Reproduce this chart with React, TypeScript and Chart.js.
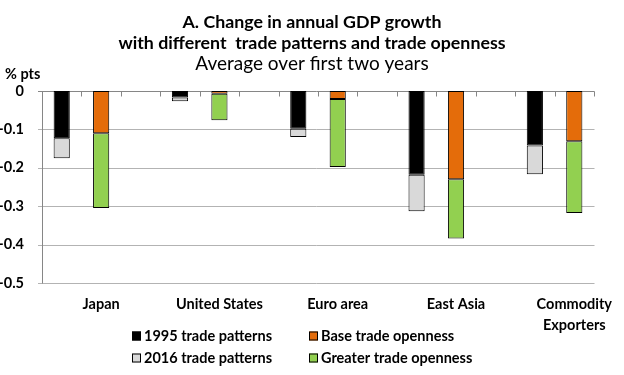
import React, { useEffect, useRef } from 'react';
import { Chart, registerables } from 'chart.js';

Chart.register(...registerables);

// ---- Data ----
const regions: (string | string[])[] = ['Japan', 'United States', 'Euro area', 'East Asia', ['Commodity', 'Exporters']];
const tradePatterns1995 = [-0.123, -0.017, -0.098, -0.218, -0.142];
const tradePatterns2016 = [-0.052, -0.01, -0.022, -0.095, -0.075];
const baseOpenness = [-0.11, -0.007, -0.021, -0.23, -0.131];
const greaterOpenness = [-0.195, -0.069, -0.177, -0.154, -0.187];
const seriesNames = ['1995 trade patterns', '2016 trade patterns', 'Base trade openness', 'Greater trade openness'];
const seriesColors = ['#000000', '#D9D9D9', '#E46C0A', '#92D050'];
const yMin = -0.5;
const yMax = 0;
const yStep = 0.1;
const titleLines = ['A. Change in annual GDP growth', 'with different  trade patterns and trade openness'];
const subtitle = 'Average over first two years';
const yUnit = '% pts';

const FONT = 'Lato, "Open Sans", sans-serif';

// each region: [patterns bar, openness bar, gap]; no gap after the last region
const slotCount = regions.length * 3 - 1;
const spread = (vals: number[], offset: number) =>
  Array.from({ length: slotCount }, (_, s) => (s % 3 === offset ? vals[Math.floor(s / 3)] : null));
const slotLabels = Array.from({ length: slotCount }, (_, s) => (s % 3 === 1 ? regions[Math.floor(s / 3)] : ''));

const W = 624;
const H = 375;

export default function App() {
  const ref = useRef<HTMLCanvasElement | null>(null);

  useEffect(() => {
    document.body.style.margin = '0';
    const canvas = ref.current;
    if (!canvas) return;

    const axisPlugin = {
      id: 'axesGrid',
      beforeDatasetsDraw(chart: any) {
        const { ctx, chartArea, scales } = chart;
        const x = scales.x;
        const y = scales.y;
        const left = Math.round(chartArea.left) + 0.5;
        const right = Math.round(chartArea.right) + 0.5;
        ctx.save();
        ctx.lineWidth = 1;
        // horizontal gridlines with left tick marks
        ctx.strokeStyle = '#B3B3B3';
        ctx.beginPath();
        y.ticks.forEach((t: any) => {
          if (t.value === 0) return;
          const py = Math.round(y.getPixelForValue(t.value)) + 0.5;
          ctx.moveTo(left - 4.5, py);
          ctx.lineTo(right, py);
        });
        ctx.stroke();
        // axes
        ctx.strokeStyle = '#868686';
        ctx.beginPath();
        const yTop = Math.round(y.getPixelForValue(yMax)) + 0.5;
        const yBot = Math.round(y.getPixelForValue(yMin)) + 0.5;
        ctx.moveTo(left, yTop);
        ctx.lineTo(left, yBot);
        const y0 = Math.round(y.getPixelForValue(0)) + 0.5;
        ctx.moveTo(left - 4.5, y0);
        ctx.lineTo(right, y0);
        for (let s = 0; s <= slotCount; s++) {
          const px = Math.round(x.getPixelForValue(s - 0.5)) + 0.5;
          ctx.moveTo(px, y0);
          ctx.lineTo(px, y0 + 5);
        }
        ctx.stroke();
        ctx.restore();
      },
    };

    const textPlugin = {
      id: 'texts',
      afterDraw(chart: any) {
        const { ctx, data } = chart;
        ctx.save();
        ctx.fillStyle = '#000';
        ctx.textAlign = 'center';
        ctx.textBaseline = 'alphabetic';
        ctx.font = `bold 17.8px ${FONT}`;
        ctx.fillText(titleLines[0], W / 2, 27.5);
        ctx.fillText(titleLines[1], W / 2, 48.5);
        ctx.font = `19px ${FONT}`;
        ctx.fillText(subtitle, W / 2, 70);
        ctx.textAlign = 'left';
        ctx.font = `bold 14.5px ${FONT}`;
        ctx.fillText(yUnit, 5, 79);

        // legend: two columns
        const cols = [
          [0, 1],
          [2, 3],
        ];
        const colX = [132, 309];
        const rowY = [336, 358];
        ctx.textBaseline = 'middle';
        ctx.font = `bold 14.5px ${FONT}`;
        cols.forEach((col, ci) => {
          col.forEach((di, ri) => {
            const ds = data.datasets[di];
            const sx = colX[ci];
            const sy = rowY[ri] - 4.5;
            ctx.fillStyle = ds.backgroundColor;
            ctx.fillRect(sx, sy, 9, 9);
            ctx.strokeStyle = '#000';
            ctx.lineWidth = 1;
            ctx.strokeRect(sx + 0.5, sy + 0.5, 8, 8);
            ctx.fillStyle = '#000';
            ctx.fillText(ds.label, sx + 12, rowY[ri] + 0.5);
          });
        });
        ctx.restore();
      },
    };

    const mk = (i: number, vals: number[], offset: number) => ({
      label: seriesNames[i],
      data: spread(vals, offset),
      backgroundColor: seriesColors[i],
      borderColor: '#000',
      borderWidth: 1,
      borderSkipped: false as const,
      barPercentage: 0.41,
      categoryPercentage: 1,
    });

    const chart = new Chart(canvas, {
      type: 'bar',
      data: {
        labels: slotLabels as any,
        datasets: [
          mk(0, tradePatterns1995, 0),
          mk(1, tradePatterns2016, 0),
          mk(2, baseOpenness, 1),
          mk(3, greaterOpenness, 1),
        ],
      },
      options: {
        responsive: false,
        animation: false,
        skipNull: true,
        layout: { padding: { top: 91, right: 29, left: 0, bottom: 0 } },
        plugins: {
          legend: { display: false },
          title: { display: false },
          tooltip: { enabled: false },
        },
        scales: {
          x: {
            stacked: true,
            grid: { display: false, drawTicks: false, tickLength: 0 },
            border: { display: false },
            ticks: {
              autoSkip: false,
              maxRotation: 0,
              minRotation: 0,
              padding: 11,
              color: '#000',
              font: { family: FONT, weight: 'bold', size: 14.5, lineHeight: '21px' },
            },
            afterFit: (s: any) => {
              s.height = H - 283;
            },
          },
          y: {
            stacked: true,
            min: yMin,
            max: yMax,
            ticks: {
              stepSize: yStep,
              padding: 18,
              color: '#000',
              font: { family: FONT, weight: 'bold', size: 14.5 },
            },
            grid: { display: false, drawTicks: false, tickLength: 0 },
            border: { display: false },
            afterFit: (s: any) => {
              s.width = 42;
            },
          },
        },
      } as any,
      plugins: [axisPlugin, textPlugin],
    });
    return () => chart.destroy();
  }, []);

  return <canvas ref={ref} width={W} height={H} style={{ display: 'block' }} />;
}
